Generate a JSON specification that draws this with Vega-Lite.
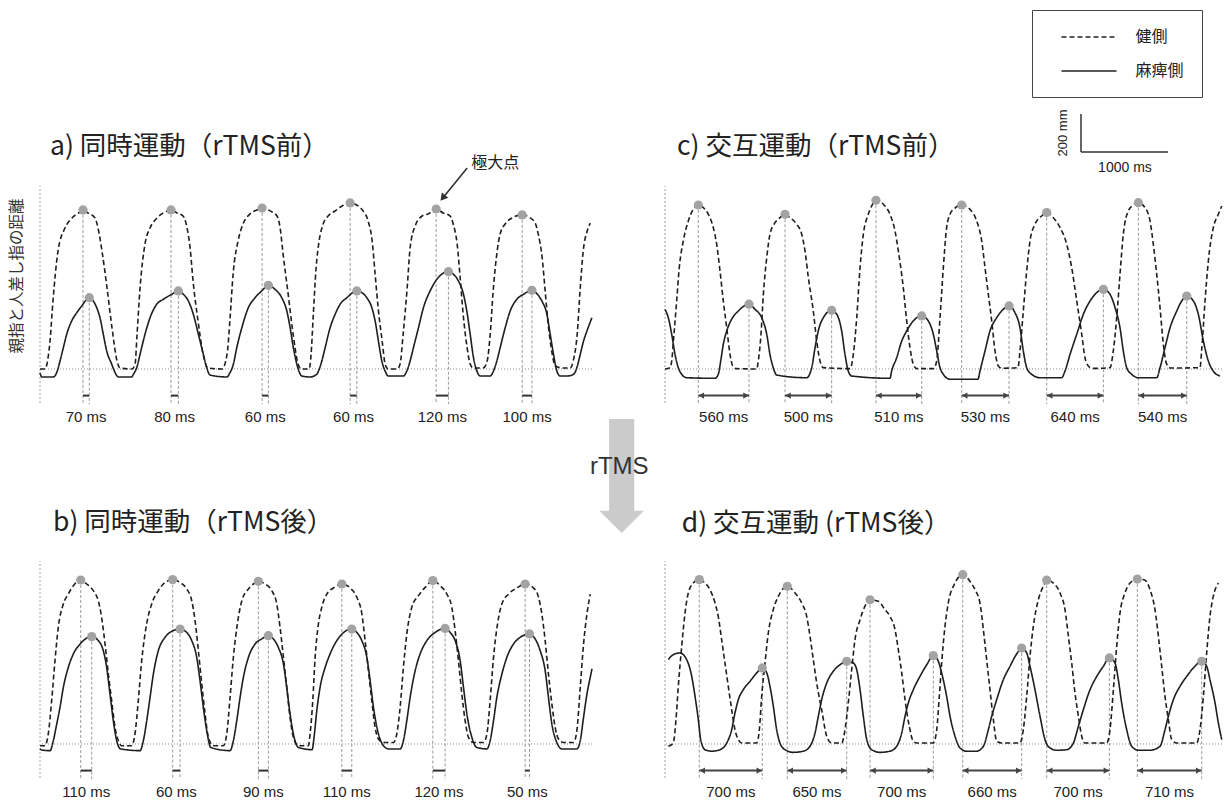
{
"$schema": "https://vega.github.io/schema/vega-lite/v6.json",
"background": "white",
"padding": {"left": 10, "top": 9, "right": 0, "bottom": 0},
"config": {"view": {"stroke": null}, "font": "Liberation Sans"},
"columns": 2,
"bounds": "flush",
"spacing": {"row": 158, "column": 73},
"resolve": {"scale": {"strokeDash": "independent"}, "legend": {"strokeDash": "independent"}},
"datasets": {
"curves": [
{"p":"a","s":"健側","t":0,"v":0},{"p":"a","s":"健側","t":57,"v":0},{"p":"a","s":"健側","t":80,"v":26},{"p":"a","s":"健側","t":115,"v":147},{"p":"a","s":"健側","t":149,"v":358},{"p":"a","s":"健側","t":207,"v":621},{"p":"a","s":"健側","t":287,"v":742},{"p":"a","s":"健側","t":368,"v":795},{"p":"a","s":"健側","t":460,"v":826},{"p":"a","s":"健側","t":494,"v":837},{"p":"a","s":"健側","t":552,"v":821},{"p":"a","s":"健側","t":632,"v":795},{"p":"a","s":"健側","t":666,"v":742},{"p":"a","s":"健側","t":712,"v":621},{"p":"a","s":"健側","t":770,"v":426},{"p":"a","s":"健側","t":827,"v":216},{"p":"a","s":"健側","t":885,"v":42},{"p":"a","s":"健側","t":919,"v":5},{"p":"a","s":"健側","t":1057,"v":0},{"p":"a","s":"健側","t":1092,"v":26},{"p":"a","s":"健側","t":1115,"v":184},{"p":"a","s":"健側","t":1149,"v":426},{"p":"a","s":"健側","t":1206,"v":658},{"p":"a","s":"健側","t":1264,"v":742},{"p":"a","s":"健側","t":1344,"v":795},{"p":"a","s":"健側","t":1436,"v":826},{"p":"a","s":"健側","t":1505,"v":837},{"p":"a","s":"健側","t":1574,"v":821},{"p":"a","s":"健側","t":1643,"v":805},{"p":"a","s":"健側","t":1689,"v":742},{"p":"a","s":"健側","t":1724,"v":637},{"p":"a","s":"健側","t":1758,"v":463},{"p":"a","s":"健側","t":1815,"v":253},{"p":"a","s":"健側","t":1873,"v":79},{"p":"a","s":"健側","t":1930,"v":5},{"p":"a","s":"健側","t":2091,"v":0},{"p":"a","s":"健側","t":2149,"v":79},{"p":"a","s":"健側","t":2183,"v":268},{"p":"a","s":"健側","t":2218,"v":500},{"p":"a","s":"健側","t":2275,"v":674},{"p":"a","s":"健側","t":2332,"v":763},{"p":"a","s":"健側","t":2413,"v":816},{"p":"a","s":"健側","t":2493,"v":837},{"p":"a","s":"健側","t":2551,"v":847},{"p":"a","s":"健側","t":2643,"v":832},{"p":"a","s":"健側","t":2723,"v":805},{"p":"a","s":"健側","t":2758,"v":742},{"p":"a","s":"健側","t":2792,"v":605},{"p":"a","s":"健側","t":2850,"v":395},{"p":"a","s":"健側","t":2907,"v":184},{"p":"a","s":"健側","t":2964,"v":26},{"p":"a","s":"健側","t":2999,"v":0},{"p":"a","s":"健側","t":3091,"v":0},{"p":"a","s":"健側","t":3114,"v":79},{"p":"a","s":"健側","t":3137,"v":268},{"p":"a","s":"健側","t":3171,"v":532},{"p":"a","s":"健側","t":3206,"v":674},{"p":"a","s":"健側","t":3252,"v":763},{"p":"a","s":"健側","t":3309,"v":805},{"p":"a","s":"健側","t":3390,"v":832},{"p":"a","s":"健側","t":3470,"v":858},{"p":"a","s":"健側","t":3562,"v":874},{"p":"a","s":"健側","t":3654,"v":858},{"p":"a","s":"健側","t":3711,"v":832},{"p":"a","s":"健側","t":3769,"v":779},{"p":"a","s":"健側","t":3815,"v":674},{"p":"a","s":"健側","t":3849,"v":500},{"p":"a","s":"健側","t":3884,"v":321},{"p":"a","s":"健側","t":3930,"v":147},{"p":"a","s":"健側","t":3964,"v":26},{"p":"a","s":"健側","t":3999,"v":0},{"p":"a","s":"健側","t":4102,"v":0},{"p":"a","s":"健側","t":4136,"v":26},{"p":"a","s":"健側","t":4171,"v":184},{"p":"a","s":"健側","t":4217,"v":426},{"p":"a","s":"健側","t":4251,"v":637},{"p":"a","s":"健側","t":4309,"v":753},{"p":"a","s":"健側","t":4389,"v":805},{"p":"a","s":"健側","t":4458,"v":816},{"p":"a","s":"健側","t":4550,"v":842},{"p":"a","s":"健側","t":4631,"v":821},{"p":"a","s":"健側","t":4711,"v":805},{"p":"a","s":"健側","t":4746,"v":763},{"p":"a","s":"健側","t":4791,"v":658},{"p":"a","s":"健側","t":4826,"v":479},{"p":"a","s":"健側","t":4860,"v":289},{"p":"a","s":"健側","t":4906,"v":111},{"p":"a","s":"健側","t":4941,"v":26},{"p":"a","s":"健側","t":4975,"v":5},{"p":"a","s":"健側","t":5090,"v":5},{"p":"a","s":"健側","t":5136,"v":42},{"p":"a","s":"健側","t":5171,"v":184},{"p":"a","s":"健側","t":5205,"v":411},{"p":"a","s":"健側","t":5251,"v":621},{"p":"a","s":"健側","t":5285,"v":711},{"p":"a","s":"健側","t":5343,"v":763},{"p":"a","s":"健側","t":5423,"v":795},{"p":"a","s":"健側","t":5538,"v":811},{"p":"a","s":"健側","t":5630,"v":795},{"p":"a","s":"健側","t":5688,"v":768},{"p":"a","s":"健側","t":5722,"v":711},{"p":"a","s":"健側","t":5768,"v":584},{"p":"a","s":"健側","t":5802,"v":411},{"p":"a","s":"健側","t":5837,"v":237},{"p":"a","s":"健側","t":5883,"v":79},{"p":"a","s":"健側","t":5917,"v":16},{"p":"a","s":"健側","t":6009,"v":5},{"p":"a","s":"健側","t":6090,"v":5},{"p":"a","s":"健側","t":6124,"v":42},{"p":"a","s":"健側","t":6170,"v":184},{"p":"a","s":"健側","t":6205,"v":426},{"p":"a","s":"健側","t":6239,"v":621},{"p":"a","s":"健側","t":6285,"v":726},{"p":"a","s":"健側","t":6320,"v":768},
{"p":"a","s":"麻痺側","t":0,"v":-19},{"p":"a","s":"麻痺側","t":20,"v":-42},{"p":"a","s":"麻痺側","t":153,"v":-42},{"p":"a","s":"麻痺側","t":192,"v":-19},{"p":"a","s":"麻痺側","t":230,"v":42},{"p":"a","s":"麻痺側","t":268,"v":112},{"p":"a","s":"麻痺側","t":307,"v":183},{"p":"a","s":"麻痺側","t":364,"v":253},{"p":"a","s":"麻痺側","t":422,"v":296},{"p":"a","s":"麻痺側","t":479,"v":332},{"p":"a","s":"麻痺側","t":566,"v":375},{"p":"a","s":"麻痺側","t":612,"v":358},{"p":"a","s":"麻痺側","t":651,"v":323},{"p":"a","s":"麻痺側","t":689,"v":270},{"p":"a","s":"麻痺側","t":727,"v":183},{"p":"a","s":"麻痺側","t":766,"v":95},{"p":"a","s":"麻痺側","t":824,"v":25},{"p":"a","s":"麻痺側","t":862,"v":-19},{"p":"a","s":"麻痺側","t":900,"v":-42},{"p":"a","s":"麻痺側","t":1054,"v":-42},{"p":"a","s":"麻痺側","t":1072,"v":-28},{"p":"a","s":"麻痺側","t":1111,"v":7},{"p":"a","s":"麻痺側","t":1149,"v":77},{"p":"a","s":"麻痺側","t":1206,"v":183},{"p":"a","s":"麻痺側","t":1264,"v":270},{"p":"a","s":"麻痺側","t":1341,"v":341},{"p":"a","s":"麻痺側","t":1417,"v":367},{"p":"a","s":"麻痺側","t":1513,"v":393},{"p":"a","s":"麻痺側","t":1589,"v":411},{"p":"a","s":"麻痺側","t":1647,"v":393},{"p":"a","s":"麻痺側","t":1704,"v":358},{"p":"a","s":"麻痺側","t":1761,"v":288},{"p":"a","s":"麻痺側","t":1819,"v":183},{"p":"a","s":"麻痺側","t":1876,"v":77},{"p":"a","s":"麻痺側","t":1915,"v":7},{"p":"a","s":"麻痺側","t":1953,"v":-32},{"p":"a","s":"麻痺側","t":2145,"v":-42},{"p":"a","s":"麻痺側","t":2183,"v":-19},{"p":"a","s":"麻痺側","t":2221,"v":25},{"p":"a","s":"麻痺側","t":2260,"v":112},{"p":"a","s":"麻痺側","t":2318,"v":217},{"p":"a","s":"麻痺側","t":2393,"v":323},{"p":"a","s":"麻痺側","t":2470,"v":375},{"p":"a","s":"麻痺側","t":2547,"v":411},{"p":"a","s":"麻痺側","t":2623,"v":440},{"p":"a","s":"麻痺側","t":2700,"v":419},{"p":"a","s":"麻痺側","t":2777,"v":375},{"p":"a","s":"麻痺側","t":2835,"v":305},{"p":"a","s":"麻痺側","t":2873,"v":217},{"p":"a","s":"麻痺側","t":2910,"v":112},{"p":"a","s":"麻痺側","t":2961,"v":7},{"p":"a","s":"麻痺側","t":3007,"v":-37},{"p":"a","s":"麻痺側","t":3100,"v":-42},{"p":"a","s":"麻痺側","t":3179,"v":-28},{"p":"a","s":"麻痺側","t":3198,"v":-11},{"p":"a","s":"麻痺側","t":3237,"v":42},{"p":"a","s":"麻痺側","t":3275,"v":112},{"p":"a","s":"麻痺側","t":3332,"v":217},{"p":"a","s":"麻痺側","t":3390,"v":288},{"p":"a","s":"麻痺側","t":3447,"v":341},{"p":"a","s":"麻痺側","t":3524,"v":375},{"p":"a","s":"麻痺側","t":3639,"v":411},{"p":"a","s":"麻痺側","t":3696,"v":402},{"p":"a","s":"麻痺側","t":3754,"v":375},{"p":"a","s":"麻痺側","t":3811,"v":323},{"p":"a","s":"麻痺側","t":3849,"v":253},{"p":"a","s":"麻痺側","t":3887,"v":147},{"p":"a","s":"麻痺側","t":3926,"v":42},{"p":"a","s":"麻痺側","t":3964,"v":-11},{"p":"a","s":"麻痺側","t":4002,"v":-37},{"p":"a","s":"麻痺側","t":4174,"v":-37},{"p":"a","s":"麻痺側","t":4213,"v":-11},{"p":"a","s":"麻痺側","t":4251,"v":42},{"p":"a","s":"麻痺側","t":4289,"v":112},{"p":"a","s":"麻痺側","t":4347,"v":217},{"p":"a","s":"麻痺側","t":4404,"v":323},{"p":"a","s":"麻痺側","t":4481,"v":411},{"p":"a","s":"麻痺側","t":4558,"v":472},{"p":"a","s":"麻痺側","t":4691,"v":512},{"p":"a","s":"麻痺側","t":4749,"v":498},{"p":"a","s":"麻痺側","t":4806,"v":463},{"p":"a","s":"麻痺側","t":4864,"v":393},{"p":"a","s":"麻痺側","t":4902,"v":305},{"p":"a","s":"麻痺側","t":4941,"v":183},{"p":"a","s":"麻痺側","t":4979,"v":59},{"p":"a","s":"麻痺側","t":5018,"v":-11},{"p":"a","s":"麻痺側","t":5056,"v":-37},{"p":"a","s":"麻痺側","t":5171,"v":-37},{"p":"a","s":"麻痺側","t":5208,"v":-11},{"p":"a","s":"麻痺側","t":5247,"v":42},{"p":"a","s":"麻痺側","t":5285,"v":112},{"p":"a","s":"麻痺側","t":5343,"v":217},{"p":"a","s":"麻痺側","t":5400,"v":305},{"p":"a","s":"麻痺側","t":5477,"v":367},{"p":"a","s":"麻痺側","t":5553,"v":393},{"p":"a","s":"麻痺側","t":5650,"v":414},{"p":"a","s":"麻痺側","t":5707,"v":396},{"p":"a","s":"麻痺側","t":5764,"v":358},{"p":"a","s":"麻痺側","t":5822,"v":288},{"p":"a","s":"麻痺側","t":5860,"v":183},{"p":"a","s":"麻痺側","t":5898,"v":77},{"p":"a","s":"麻痺側","t":5937,"v":-11},{"p":"a","s":"麻痺側","t":5975,"v":-37},{"p":"a","s":"麻痺側","t":6052,"v":-37},{"p":"a","s":"麻痺側","t":6128,"v":-28},{"p":"a","s":"麻痺側","t":6166,"v":7},{"p":"a","s":"麻痺側","t":6205,"v":77},{"p":"a","s":"麻痺側","t":6243,"v":147},{"p":"a","s":"麻痺側","t":6282,"v":200},{"p":"a","s":"麻痺側","t":6339,"v":270},
{"p":"b","s":"健側","t":0,"v":-9},{"p":"b","s":"健側","t":57,"v":-9},{"p":"b","s":"健側","t":95,"v":53},{"p":"b","s":"健側","t":134,"v":228},{"p":"b","s":"健側","t":172,"v":438},{"p":"b","s":"健側","t":210,"v":614},{"p":"b","s":"健側","t":268,"v":737},{"p":"b","s":"健側","t":325,"v":789},{"p":"b","s":"健側","t":383,"v":833},{"p":"b","s":"健側","t":468,"v":863},{"p":"b","s":"健側","t":537,"v":842},{"p":"b","s":"健側","t":612,"v":807},{"p":"b","s":"健側","t":669,"v":754},{"p":"b","s":"健側","t":708,"v":666},{"p":"b","s":"健側","t":747,"v":526},{"p":"b","s":"健側","t":785,"v":368},{"p":"b","s":"健側","t":823,"v":228},{"p":"b","s":"健側","t":862,"v":87},{"p":"b","s":"健側","t":900,"v":17},{"p":"b","s":"健側","t":938,"v":-9},{"p":"b","s":"健側","t":1053,"v":-9},{"p":"b","s":"健側","t":1091,"v":53},{"p":"b","s":"健側","t":1129,"v":228},{"p":"b","s":"健側","t":1168,"v":438},{"p":"b","s":"健側","t":1225,"v":632},{"p":"b","s":"健側","t":1283,"v":737},{"p":"b","s":"健側","t":1359,"v":807},{"p":"b","s":"健側","t":1436,"v":850},{"p":"b","s":"健側","t":1524,"v":865},{"p":"b","s":"健側","t":1608,"v":850},{"p":"b","s":"健側","t":1685,"v":816},{"p":"b","s":"健側","t":1743,"v":754},{"p":"b","s":"健側","t":1781,"v":649},{"p":"b","s":"健側","t":1819,"v":491},{"p":"b","s":"健側","t":1858,"v":316},{"p":"b","s":"健側","t":1896,"v":158},{"p":"b","s":"健側","t":1934,"v":35},{"p":"b","s":"健側","t":1991,"v":-9},{"p":"b","s":"健側","t":2106,"v":-9},{"p":"b","s":"健側","t":2145,"v":53},{"p":"b","s":"健側","t":2183,"v":245},{"p":"b","s":"健側","t":2221,"v":456},{"p":"b","s":"健側","t":2267,"v":632},{"p":"b","s":"健側","t":2318,"v":754},{"p":"b","s":"健側","t":2394,"v":816},{"p":"b","s":"健側","t":2451,"v":842},{"p":"b","s":"健側","t":2508,"v":856},{"p":"b","s":"健側","t":2585,"v":842},{"p":"b","s":"健側","t":2662,"v":807},{"p":"b","s":"健側","t":2719,"v":737},{"p":"b","s":"健側","t":2757,"v":614},{"p":"b","s":"健側","t":2796,"v":456},{"p":"b","s":"健側","t":2834,"v":298},{"p":"b","s":"健側","t":2872,"v":140},{"p":"b","s":"健側","t":2910,"v":35},{"p":"b","s":"健側","t":2968,"v":-9},{"p":"b","s":"健側","t":3083,"v":-9},{"p":"b","s":"健側","t":3102,"v":53},{"p":"b","s":"健側","t":3133,"v":228},{"p":"b","s":"健側","t":3160,"v":456},{"p":"b","s":"健側","t":3198,"v":632},{"p":"b","s":"健側","t":3236,"v":719},{"p":"b","s":"健側","t":3294,"v":789},{"p":"b","s":"健側","t":3370,"v":821},{"p":"b","s":"健側","t":3467,"v":842},{"p":"b","s":"健側","t":3562,"v":821},{"p":"b","s":"健側","t":3639,"v":772},{"p":"b","s":"健側","t":3697,"v":684},{"p":"b","s":"健側","t":3734,"v":544},{"p":"b","s":"健側","t":3772,"v":386},{"p":"b","s":"健側","t":3811,"v":228},{"p":"b","s":"健側","t":3849,"v":87},{"p":"b","s":"健側","t":3887,"v":26},{"p":"b","s":"健側","t":3945,"v":8},{"p":"b","s":"健側","t":4060,"v":8},{"p":"b","s":"健側","t":4098,"v":53},{"p":"b","s":"健側","t":4136,"v":193},{"p":"b","s":"健側","t":4174,"v":403},{"p":"b","s":"健側","t":4213,"v":579},{"p":"b","s":"健側","t":4270,"v":719},{"p":"b","s":"健側","t":4347,"v":781},{"p":"b","s":"健側","t":4424,"v":824},{"p":"b","s":"健側","t":4512,"v":860},{"p":"b","s":"健側","t":4596,"v":833},{"p":"b","s":"健側","t":4673,"v":789},{"p":"b","s":"健側","t":4730,"v":719},{"p":"b","s":"健側","t":4768,"v":596},{"p":"b","s":"健側","t":4806,"v":438},{"p":"b","s":"健側","t":4845,"v":263},{"p":"b","s":"健側","t":4883,"v":123},{"p":"b","s":"健側","t":4921,"v":35},{"p":"b","s":"健側","t":4979,"v":8},{"p":"b","s":"健側","t":5094,"v":8},{"p":"b","s":"健側","t":5133,"v":53},{"p":"b","s":"健側","t":5170,"v":228},{"p":"b","s":"健側","t":5209,"v":456},{"p":"b","s":"健側","t":5255,"v":632},{"p":"b","s":"健側","t":5305,"v":737},{"p":"b","s":"健側","t":5381,"v":789},{"p":"b","s":"健側","t":5477,"v":821},{"p":"b","s":"健側","t":5572,"v":842},{"p":"b","s":"健側","t":5668,"v":821},{"p":"b","s":"健側","t":5726,"v":772},{"p":"b","s":"健側","t":5764,"v":684},{"p":"b","s":"健側","t":5802,"v":544},{"p":"b","s":"健側","t":5840,"v":368},{"p":"b","s":"健側","t":5879,"v":211},{"p":"b","s":"健側","t":5917,"v":87},{"p":"b","s":"健側","t":5955,"v":26},{"p":"b","s":"健側","t":6013,"v":8},{"p":"b","s":"健側","t":6128,"v":8},{"p":"b","s":"健側","t":6166,"v":70},{"p":"b","s":"健側","t":6205,"v":298},{"p":"b","s":"健側","t":6243,"v":526},{"p":"b","s":"健側","t":6282,"v":684},{"p":"b","s":"健側","t":6320,"v":789},
{"p":"b","s":"麻痺側","t":0,"v":-26},{"p":"b","s":"麻痺側","t":20,"v":-32},{"p":"b","s":"麻痺側","t":115,"v":-35},{"p":"b","s":"麻痺側","t":153,"v":17},{"p":"b","s":"麻痺側","t":192,"v":105},{"p":"b","s":"麻痺側","t":230,"v":193},{"p":"b","s":"麻痺側","t":268,"v":298},{"p":"b","s":"麻痺側","t":325,"v":403},{"p":"b","s":"麻痺側","t":383,"v":474},{"p":"b","s":"麻痺側","t":460,"v":526},{"p":"b","s":"麻痺側","t":594,"v":565},{"p":"b","s":"麻痺側","t":670,"v":544},{"p":"b","s":"麻痺側","t":727,"v":491},{"p":"b","s":"麻痺側","t":766,"v":403},{"p":"b","s":"麻痺側","t":804,"v":263},{"p":"b","s":"麻痺側","t":842,"v":123},{"p":"b","s":"麻痺側","t":881,"v":17},{"p":"b","s":"麻痺側","t":927,"v":-26},{"p":"b","s":"麻痺側","t":1149,"v":-35},{"p":"b","s":"麻痺側","t":1187,"v":17},{"p":"b","s":"麻痺側","t":1226,"v":123},{"p":"b","s":"麻痺側","t":1264,"v":245},{"p":"b","s":"麻痺側","t":1302,"v":368},{"p":"b","s":"麻痺側","t":1359,"v":491},{"p":"b","s":"麻痺側","t":1436,"v":561},{"p":"b","s":"麻痺側","t":1513,"v":593},{"p":"b","s":"麻痺側","t":1609,"v":605},{"p":"b","s":"麻痺側","t":1685,"v":587},{"p":"b","s":"麻痺側","t":1743,"v":544},{"p":"b","s":"麻痺側","t":1800,"v":456},{"p":"b","s":"麻痺側","t":1838,"v":333},{"p":"b","s":"麻痺側","t":1876,"v":193},{"p":"b","s":"麻痺側","t":1915,"v":70},{"p":"b","s":"麻痺側","t":1961,"v":-18},{"p":"b","s":"麻痺側","t":2183,"v":-35},{"p":"b","s":"麻痺側","t":2221,"v":17},{"p":"b","s":"麻痺側","t":2260,"v":123},{"p":"b","s":"麻痺側","t":2298,"v":245},{"p":"b","s":"麻痺側","t":2336,"v":351},{"p":"b","s":"麻痺側","t":2394,"v":456},{"p":"b","s":"麻痺側","t":2470,"v":526},{"p":"b","s":"麻痺側","t":2547,"v":553},{"p":"b","s":"麻痺側","t":2623,"v":570},{"p":"b","s":"麻痺側","t":2680,"v":553},{"p":"b","s":"麻痺側","t":2738,"v":508},{"p":"b","s":"麻痺側","t":2796,"v":421},{"p":"b","s":"麻痺側","t":2834,"v":298},{"p":"b","s":"麻痺側","t":2872,"v":158},{"p":"b","s":"麻痺側","t":2910,"v":53},{"p":"b","s":"麻痺側","t":2968,"v":-18},{"p":"b","s":"麻痺側","t":3125,"v":-30},{"p":"b","s":"麻痺側","t":3150,"v":45},{"p":"b","s":"麻痺側","t":3179,"v":175},{"p":"b","s":"麻痺側","t":3217,"v":298},{"p":"b","s":"麻痺側","t":3275,"v":403},{"p":"b","s":"麻痺側","t":3332,"v":474},{"p":"b","s":"麻痺側","t":3409,"v":544},{"p":"b","s":"麻痺側","t":3581,"v":605},{"p":"b","s":"麻痺側","t":3639,"v":587},{"p":"b","s":"麻痺側","t":3696,"v":544},{"p":"b","s":"麻痺側","t":3754,"v":456},{"p":"b","s":"麻痺側","t":3792,"v":333},{"p":"b","s":"麻痺側","t":3830,"v":193},{"p":"b","s":"麻痺側","t":3887,"v":53},{"p":"b","s":"麻痺側","t":3945,"v":-9},{"p":"b","s":"麻痺側","t":4002,"v":-26},{"p":"b","s":"麻痺側","t":4136,"v":-26},{"p":"b","s":"麻痺側","t":4174,"v":17},{"p":"b","s":"麻痺側","t":4213,"v":123},{"p":"b","s":"麻痺側","t":4251,"v":245},{"p":"b","s":"麻痺側","t":4309,"v":386},{"p":"b","s":"麻痺側","t":4366,"v":474},{"p":"b","s":"麻痺側","t":4443,"v":544},{"p":"b","s":"麻痺側","t":4538,"v":587},{"p":"b","s":"麻痺側","t":4653,"v":608},{"p":"b","s":"麻痺側","t":4711,"v":587},{"p":"b","s":"麻痺側","t":4768,"v":544},{"p":"b","s":"麻痺側","t":4826,"v":438},{"p":"b","s":"麻痺側","t":4864,"v":298},{"p":"b","s":"麻痺側","t":4903,"v":158},{"p":"b","s":"麻痺側","t":4960,"v":35},{"p":"b","s":"麻痺側","t":5017,"v":-18},{"p":"b","s":"麻痺側","t":5133,"v":-26},{"p":"b","s":"麻痺側","t":5170,"v":17},{"p":"b","s":"麻痺側","t":5209,"v":123},{"p":"b","s":"麻痺側","t":5247,"v":245},{"p":"b","s":"麻痺側","t":5305,"v":368},{"p":"b","s":"麻痺側","t":5362,"v":456},{"p":"b","s":"麻痺側","t":5438,"v":526},{"p":"b","s":"麻痺側","t":5515,"v":561},{"p":"b","s":"麻痺側","t":5622,"v":579},{"p":"b","s":"麻痺側","t":5687,"v":553},{"p":"b","s":"麻痺側","t":5745,"v":491},{"p":"b","s":"麻痺側","t":5802,"v":386},{"p":"b","s":"麻痺側","t":5840,"v":245},{"p":"b","s":"麻痺側","t":5879,"v":105},{"p":"b","s":"麻痺側","t":5936,"v":8},{"p":"b","s":"麻痺側","t":5994,"v":-26},{"p":"b","s":"麻痺側","t":6166,"v":-26},{"p":"b","s":"麻痺側","t":6205,"v":17},{"p":"b","s":"麻痺側","t":6243,"v":140},{"p":"b","s":"麻痺側","t":6282,"v":263},{"p":"b","s":"麻痺側","t":6320,"v":351},{"p":"b","s":"麻痺側","t":6340,"v":396},
{"p":"c","s":"健側","t":0,"v":0},{"p":"c","s":"健側","t":57,"v":7},{"p":"c","s":"健側","t":77,"v":42},{"p":"c","s":"健側","t":103,"v":183},{"p":"c","s":"健側","t":134,"v":358},{"p":"c","s":"健側","t":164,"v":533},{"p":"c","s":"健側","t":210,"v":674},{"p":"c","s":"健側","t":268,"v":779},{"p":"c","s":"健側","t":325,"v":841},{"p":"c","s":"健側","t":383,"v":863},{"p":"c","s":"健側","t":440,"v":849},{"p":"c","s":"健側","t":498,"v":814},{"p":"c","s":"健側","t":555,"v":744},{"p":"c","s":"健側","t":594,"v":656},{"p":"c","s":"健側","t":632,"v":516},{"p":"c","s":"健側","t":670,"v":358},{"p":"c","s":"健側","t":709,"v":217},{"p":"c","s":"健側","t":747,"v":77},{"p":"c","s":"健側","t":778,"v":16},{"p":"c","s":"健側","t":820,"v":2},{"p":"c","s":"健側","t":1054,"v":0},{"p":"c","s":"健側","t":1072,"v":42},{"p":"c","s":"健側","t":1103,"v":183},{"p":"c","s":"健側","t":1130,"v":393},{"p":"c","s":"健側","t":1169,"v":586},{"p":"c","s":"健側","t":1206,"v":709},{"p":"c","s":"健側","t":1264,"v":770},{"p":"c","s":"健側","t":1321,"v":796},{"p":"c","s":"健側","t":1379,"v":814},{"p":"c","s":"健側","t":1436,"v":796},{"p":"c","s":"健側","t":1513,"v":762},{"p":"c","s":"健側","t":1571,"v":709},{"p":"c","s":"健側","t":1609,"v":621},{"p":"c","s":"健側","t":1647,"v":481},{"p":"c","s":"健側","t":1704,"v":305},{"p":"c","s":"健側","t":1743,"v":147},{"p":"c","s":"健側","t":1781,"v":42},{"p":"c","s":"健側","t":1819,"v":7},{"p":"c","s":"健側","t":2126,"v":2},{"p":"c","s":"健側","t":2164,"v":77},{"p":"c","s":"健側","t":2203,"v":270},{"p":"c","s":"健側","t":2241,"v":533},{"p":"c","s":"健側","t":2279,"v":709},{"p":"c","s":"健側","t":2336,"v":814},{"p":"c","s":"健側","t":2375,"v":858},{"p":"c","s":"健側","t":2424,"v":888},{"p":"c","s":"健側","t":2508,"v":867},{"p":"c","s":"健側","t":2585,"v":814},{"p":"c","s":"健側","t":2643,"v":726},{"p":"c","s":"健側","t":2681,"v":621},{"p":"c","s":"健側","t":2738,"v":428},{"p":"c","s":"健側","t":2777,"v":253},{"p":"c","s":"健側","t":2815,"v":112},{"p":"c","s":"健側","t":2853,"v":25},{"p":"c","s":"健側","t":2892,"v":2},{"p":"c","s":"健側","t":3083,"v":2},{"p":"c","s":"健側","t":3122,"v":42},{"p":"c","s":"健側","t":3160,"v":270},{"p":"c","s":"健側","t":3198,"v":533},{"p":"c","s":"健側","t":3236,"v":744},{"p":"c","s":"健側","t":3275,"v":814},{"p":"c","s":"健側","t":3332,"v":847},{"p":"c","s":"健側","t":3409,"v":863},{"p":"c","s":"健側","t":3504,"v":840},{"p":"c","s":"健側","t":3581,"v":779},{"p":"c","s":"健側","t":3639,"v":674},{"p":"c","s":"健側","t":3677,"v":533},{"p":"c","s":"健側","t":3715,"v":393},{"p":"c","s":"健側","t":3754,"v":253},{"p":"c","s":"健側","t":3792,"v":95},{"p":"c","s":"健側","t":3830,"v":16},{"p":"c","s":"健側","t":3870,"v":4},{"p":"c","s":"健側","t":4056,"v":7},{"p":"c","s":"健側","t":4079,"v":95},{"p":"c","s":"健側","t":4117,"v":305},{"p":"c","s":"健側","t":4156,"v":516},{"p":"c","s":"健側","t":4194,"v":674},{"p":"c","s":"健側","t":4251,"v":762},{"p":"c","s":"健側","t":4328,"v":805},{"p":"c","s":"健側","t":4386,"v":823},{"p":"c","s":"健側","t":4462,"v":796},{"p":"c","s":"健側","t":4539,"v":744},{"p":"c","s":"健側","t":4616,"v":656},{"p":"c","s":"健側","t":4673,"v":533},{"p":"c","s":"健側","t":4731,"v":358},{"p":"c","s":"健側","t":4788,"v":183},{"p":"c","s":"健側","t":4826,"v":59},{"p":"c","s":"健側","t":4864,"v":16},{"p":"c","s":"健側","t":4910,"v":3},{"p":"c","s":"健側","t":5113,"v":7},{"p":"c","s":"健側","t":5151,"v":95},{"p":"c","s":"健側","t":5190,"v":270},{"p":"c","s":"健側","t":5228,"v":498},{"p":"c","s":"健側","t":5266,"v":709},{"p":"c","s":"健側","t":5324,"v":832},{"p":"c","s":"健側","t":5381,"v":863},{"p":"c","s":"健側","t":5439,"v":875},{"p":"c","s":"健側","t":5516,"v":849},{"p":"c","s":"健側","t":5573,"v":779},{"p":"c","s":"健側","t":5611,"v":656},{"p":"c","s":"健側","t":5650,"v":498},{"p":"c","s":"健側","t":5688,"v":323},{"p":"c","s":"健側","t":5726,"v":130},{"p":"c","s":"健側","t":5765,"v":25},{"p":"c","s":"健側","t":5810,"v":5},{"p":"c","s":"健側","t":6147,"v":7},{"p":"c","s":"健側","t":6166,"v":95},{"p":"c","s":"健側","t":6205,"v":358},{"p":"c","s":"健側","t":6243,"v":568},{"p":"c","s":"健側","t":6300,"v":744},{"p":"c","s":"健側","t":6358,"v":814},{"p":"c","s":"健側","t":6397,"v":858},
{"p":"c","s":"麻痺側","t":0,"v":314},{"p":"c","s":"麻痺側","t":38,"v":270},{"p":"c","s":"麻痺側","t":77,"v":183},{"p":"c","s":"麻痺側","t":115,"v":77},{"p":"c","s":"麻痺側","t":153,"v":7},{"p":"c","s":"麻痺側","t":192,"v":-28},{"p":"c","s":"麻痺側","t":249,"v":-46},{"p":"c","s":"麻痺側","t":575,"v":-49},{"p":"c","s":"麻痺側","t":612,"v":-28},{"p":"c","s":"麻痺側","t":640,"v":42},{"p":"c","s":"麻痺側","t":670,"v":130},{"p":"c","s":"麻痺側","t":709,"v":200},{"p":"c","s":"麻痺側","t":766,"v":262},{"p":"c","s":"麻痺側","t":842,"v":305},{"p":"c","s":"麻痺側","t":965,"v":341},{"p":"c","s":"麻痺側","t":1034,"v":314},{"p":"c","s":"麻痺側","t":1111,"v":270},{"p":"c","s":"麻痺側","t":1169,"v":183},{"p":"c","s":"麻痺側","t":1206,"v":77},{"p":"c","s":"麻痺側","t":1244,"v":7},{"p":"c","s":"麻痺側","t":1283,"v":-32},{"p":"c","s":"麻痺側","t":1628,"v":-46},{"p":"c","s":"麻痺側","t":1686,"v":7},{"p":"c","s":"麻痺側","t":1724,"v":112},{"p":"c","s":"麻痺側","t":1761,"v":200},{"p":"c","s":"麻痺側","t":1819,"v":270},{"p":"c","s":"麻痺側","t":1915,"v":309},{"p":"c","s":"麻痺側","t":1973,"v":288},{"p":"c","s":"麻痺側","t":2030,"v":200},{"p":"c","s":"麻痺側","t":2068,"v":77},{"p":"c","s":"麻痺側","t":2106,"v":-11},{"p":"c","s":"麻痺側","t":2145,"v":-37},{"p":"c","s":"麻痺側","t":2585,"v":-49},{"p":"c","s":"麻痺側","t":2604,"v":-11},{"p":"c","s":"麻痺側","t":2662,"v":59},{"p":"c","s":"麻痺側","t":2720,"v":147},{"p":"c","s":"麻痺側","t":2777,"v":200},{"p":"c","s":"麻痺側","t":2853,"v":253},{"p":"c","s":"麻痺側","t":2950,"v":279},{"p":"c","s":"麻痺側","t":3025,"v":253},{"p":"c","s":"麻痺側","t":3083,"v":183},{"p":"c","s":"麻痺側","t":3122,"v":95},{"p":"c","s":"麻痺側","t":3160,"v":7},{"p":"c","s":"麻痺側","t":3198,"v":-28},{"p":"c","s":"麻痺側","t":3275,"v":-54},{"p":"c","s":"麻痺側","t":3596,"v":-54},{"p":"c","s":"麻痺側","t":3619,"v":-11},{"p":"c","s":"麻痺側","t":3677,"v":95},{"p":"c","s":"麻痺側","t":3734,"v":200},{"p":"c","s":"麻痺側","t":3811,"v":270},{"p":"c","s":"麻痺側","t":3887,"v":314},{"p":"c","s":"麻痺側","t":3953,"v":332},{"p":"c","s":"麻痺側","t":4022,"v":296},{"p":"c","s":"麻痺側","t":4079,"v":217},{"p":"c","s":"麻痺側","t":4117,"v":95},{"p":"c","s":"麻痺側","t":4156,"v":7},{"p":"c","s":"麻痺側","t":4213,"v":-28},{"p":"c","s":"麻痺側","t":4309,"v":-46},{"p":"c","s":"麻痺側","t":4558,"v":-46},{"p":"c","s":"麻痺側","t":4596,"v":-11},{"p":"c","s":"麻痺側","t":4654,"v":77},{"p":"c","s":"麻痺側","t":4731,"v":183},{"p":"c","s":"麻痺側","t":4807,"v":288},{"p":"c","s":"麻痺側","t":4884,"v":358},{"p":"c","s":"麻痺側","t":4961,"v":402},{"p":"c","s":"麻痺側","t":5037,"v":419},{"p":"c","s":"麻痺側","t":5113,"v":393},{"p":"c","s":"麻痺側","t":5171,"v":323},{"p":"c","s":"麻痺側","t":5228,"v":217},{"p":"c","s":"麻痺側","t":5266,"v":95},{"p":"c","s":"麻痺側","t":5305,"v":7},{"p":"c","s":"麻痺側","t":5362,"v":-28},{"p":"c","s":"麻痺側","t":5438,"v":-46},{"p":"c","s":"麻痺側","t":5650,"v":-46},{"p":"c","s":"麻痺側","t":5688,"v":7},{"p":"c","s":"麻痺側","t":5745,"v":112},{"p":"c","s":"麻痺側","t":5803,"v":217},{"p":"c","s":"麻痺側","t":5880,"v":305},{"p":"c","s":"麻痺側","t":5937,"v":358},{"p":"c","s":"麻痺側","t":5995,"v":384},{"p":"c","s":"麻痺側","t":6071,"v":358},{"p":"c","s":"麻痺側","t":6128,"v":288},{"p":"c","s":"麻痺側","t":6186,"v":147},{"p":"c","s":"麻痺側","t":6243,"v":42},{"p":"c","s":"麻痺側","t":6300,"v":-11},{"p":"c","s":"麻痺側","t":6377,"v":-37},
{"p":"d","s":"健側","t":38,"v":-12},{"p":"d","s":"健側","t":95,"v":5},{"p":"d","s":"健側","t":126,"v":128},{"p":"d","s":"健側","t":153,"v":304},{"p":"d","s":"健側","t":192,"v":514},{"p":"d","s":"健側","t":230,"v":689},{"p":"d","s":"健側","t":268,"v":795},{"p":"d","s":"健側","t":325,"v":847},{"p":"d","s":"健側","t":394,"v":865},{"p":"d","s":"健側","t":460,"v":847},{"p":"d","s":"健側","t":517,"v":812},{"p":"d","s":"健側","t":575,"v":742},{"p":"d","s":"健側","t":612,"v":672},{"p":"d","s":"健側","t":651,"v":549},{"p":"d","s":"健側","t":689,"v":426},{"p":"d","s":"健側","t":727,"v":304},{"p":"d","s":"健側","t":766,"v":181},{"p":"d","s":"健側","t":804,"v":75},{"p":"d","s":"健側","t":842,"v":23},{"p":"d","s":"健側","t":881,"v":5},{"p":"d","s":"健側","t":1054,"v":5},{"p":"d","s":"健側","t":1084,"v":75},{"p":"d","s":"健側","t":1111,"v":251},{"p":"d","s":"健側","t":1149,"v":426},{"p":"d","s":"健側","t":1187,"v":584},{"p":"d","s":"健側","t":1244,"v":707},{"p":"d","s":"健側","t":1302,"v":777},{"p":"d","s":"健側","t":1405,"v":830},{"p":"d","s":"健側","t":1494,"v":795},{"p":"d","s":"健側","t":1571,"v":742},{"p":"d","s":"健側","t":1628,"v":672},{"p":"d","s":"健側","t":1666,"v":567},{"p":"d","s":"健側","t":1704,"v":444},{"p":"d","s":"健側","t":1743,"v":321},{"p":"d","s":"健側","t":1800,"v":181},{"p":"d","s":"健側","t":1858,"v":41},{"p":"d","s":"健側","t":1915,"v":5},{"p":"d","s":"健側","t":2030,"v":5},{"p":"d","s":"健側","t":2068,"v":75},{"p":"d","s":"健側","t":2106,"v":216},{"p":"d","s":"健側","t":2145,"v":391},{"p":"d","s":"健側","t":2183,"v":549},{"p":"d","s":"健側","t":2241,"v":654},{"p":"d","s":"健側","t":2298,"v":725},{"p":"d","s":"健側","t":2356,"v":759},{"p":"d","s":"健側","t":2451,"v":751},{"p":"d","s":"健側","t":2528,"v":707},{"p":"d","s":"健側","t":2585,"v":672},{"p":"d","s":"健側","t":2643,"v":602},{"p":"d","s":"健側","t":2681,"v":496},{"p":"d","s":"健側","t":2720,"v":374},{"p":"d","s":"健側","t":2758,"v":233},{"p":"d","s":"健側","t":2807,"v":93},{"p":"d","s":"健側","t":2853,"v":14},{"p":"d","s":"健側","t":2892,"v":5},{"p":"d","s":"健側","t":3083,"v":5},{"p":"d","s":"健側","t":3122,"v":75},{"p":"d","s":"健側","t":3152,"v":251},{"p":"d","s":"健側","t":3179,"v":426},{"p":"d","s":"健側","t":3217,"v":619},{"p":"d","s":"健側","t":3255,"v":742},{"p":"d","s":"健側","t":3332,"v":847},{"p":"d","s":"健側","t":3421,"v":891},{"p":"d","s":"健側","t":3504,"v":856},{"p":"d","s":"健側","t":3562,"v":812},{"p":"d","s":"健側","t":3619,"v":742},{"p":"d","s":"健側","t":3658,"v":602},{"p":"d","s":"健側","t":3696,"v":444},{"p":"d","s":"健側","t":3734,"v":286},{"p":"d","s":"健側","t":3773,"v":128},{"p":"d","s":"健側","t":3811,"v":14},{"p":"d","s":"健側","t":3869,"v":5},{"p":"d","s":"健側","t":4079,"v":5},{"p":"d","s":"健側","t":4117,"v":75},{"p":"d","s":"健側","t":4156,"v":251},{"p":"d","s":"健側","t":4194,"v":462},{"p":"d","s":"健側","t":4232,"v":619},{"p":"d","s":"健側","t":4290,"v":759},{"p":"d","s":"健側","t":4347,"v":830},{"p":"d","s":"健側","t":4386,"v":862},{"p":"d","s":"健側","t":4462,"v":847},{"p":"d","s":"健側","t":4539,"v":795},{"p":"d","s":"健側","t":4596,"v":707},{"p":"d","s":"健側","t":4635,"v":567},{"p":"d","s":"健側","t":4673,"v":426},{"p":"d","s":"健側","t":4711,"v":268},{"p":"d","s":"健側","t":4750,"v":146},{"p":"d","s":"健側","t":4788,"v":41},{"p":"d","s":"健側","t":4826,"v":5},{"p":"d","s":"健側","t":5075,"v":5},{"p":"d","s":"健側","t":5113,"v":75},{"p":"d","s":"健側","t":5152,"v":286},{"p":"d","s":"健側","t":5190,"v":514},{"p":"d","s":"健側","t":5228,"v":689},{"p":"d","s":"健側","t":5285,"v":795},{"p":"d","s":"健側","t":5343,"v":847},{"p":"d","s":"健側","t":5427,"v":868},{"p":"d","s":"健側","t":5516,"v":862},{"p":"d","s":"健側","t":5573,"v":812},{"p":"d","s":"健側","t":5630,"v":707},{"p":"d","s":"健側","t":5669,"v":567},{"p":"d","s":"健側","t":5707,"v":409},{"p":"d","s":"健側","t":5745,"v":251},{"p":"d","s":"健側","t":5784,"v":128},{"p":"d","s":"健側","t":5822,"v":23},{"p":"d","s":"健側","t":5880,"v":5},{"p":"d","s":"健側","t":6109,"v":5},{"p":"d","s":"健側","t":6147,"v":75},{"p":"d","s":"健側","t":6186,"v":251},{"p":"d","s":"健側","t":6224,"v":479},{"p":"d","s":"健側","t":6262,"v":672},{"p":"d","s":"健側","t":6300,"v":777},{"p":"d","s":"健側","t":6358,"v":847},
{"p":"d","s":"麻痺側","t":38,"v":444},{"p":"d","s":"麻痺側","t":95,"v":470},{"p":"d","s":"麻痺側","t":172,"v":479},{"p":"d","s":"麻痺側","t":249,"v":444},{"p":"d","s":"麻痺側","t":307,"v":356},{"p":"d","s":"麻痺側","t":345,"v":251},{"p":"d","s":"麻痺側","t":383,"v":128},{"p":"d","s":"麻痺側","t":410,"v":23},{"p":"d","s":"麻痺側","t":460,"v":-30},{"p":"d","s":"麻痺側","t":537,"v":-38},{"p":"d","s":"麻痺側","t":632,"v":-30},{"p":"d","s":"麻痺側","t":709,"v":5},{"p":"d","s":"麻痺側","t":766,"v":75},{"p":"d","s":"麻痺側","t":804,"v":163},{"p":"d","s":"麻痺側","t":842,"v":233},{"p":"d","s":"麻痺側","t":900,"v":286},{"p":"d","s":"麻痺側","t":977,"v":330},{"p":"d","s":"麻痺側","t":1054,"v":374},{"p":"d","s":"麻痺側","t":1118,"v":400},{"p":"d","s":"麻痺側","t":1169,"v":374},{"p":"d","s":"麻痺側","t":1206,"v":304},{"p":"d","s":"麻痺側","t":1245,"v":198},{"p":"d","s":"麻痺側","t":1283,"v":75},{"p":"d","s":"麻痺側","t":1321,"v":5},{"p":"d","s":"麻痺側","t":1379,"v":-30},{"p":"d","s":"麻痺側","t":1474,"v":-44},{"p":"d","s":"麻痺側","t":1589,"v":-38},{"p":"d","s":"麻痺側","t":1666,"v":-12},{"p":"d","s":"麻痺側","t":1724,"v":58},{"p":"d","s":"麻痺側","t":1762,"v":146},{"p":"d","s":"麻痺側","t":1800,"v":233},{"p":"d","s":"麻痺側","t":1858,"v":321},{"p":"d","s":"麻痺側","t":1934,"v":383},{"p":"d","s":"麻痺側","t":2011,"v":417},{"p":"d","s":"麻痺側","t":2088,"v":435},{"p":"d","s":"麻痺側","t":2164,"v":426},{"p":"d","s":"麻痺側","t":2203,"v":391},{"p":"d","s":"麻痺側","t":2241,"v":286},{"p":"d","s":"麻痺側","t":2279,"v":146},{"p":"d","s":"麻痺側","t":2318,"v":23},{"p":"d","s":"麻痺側","t":2375,"v":-30},{"p":"d","s":"麻痺側","t":2471,"v":-44},{"p":"d","s":"麻痺側","t":2585,"v":-38},{"p":"d","s":"麻痺側","t":2662,"v":-12},{"p":"d","s":"麻痺側","t":2720,"v":58},{"p":"d","s":"麻痺側","t":2758,"v":146},{"p":"d","s":"麻痺側","t":2796,"v":216},{"p":"d","s":"麻痺側","t":2853,"v":286},{"p":"d","s":"麻痺側","t":2930,"v":356},{"p":"d","s":"麻痺側","t":3007,"v":417},{"p":"d","s":"麻痺側","t":3083,"v":465},{"p":"d","s":"麻痺側","t":3141,"v":435},{"p":"d","s":"麻痺側","t":3179,"v":374},{"p":"d","s":"麻痺側","t":3236,"v":251},{"p":"d","s":"麻痺側","t":3275,"v":146},{"p":"d","s":"麻痺側","t":3332,"v":41},{"p":"d","s":"麻痺側","t":3390,"v":-21},{"p":"d","s":"麻痺側","t":3466,"v":-38},{"p":"d","s":"麻痺側","t":3581,"v":-38},{"p":"d","s":"麻痺側","t":3658,"v":-12},{"p":"d","s":"麻痺側","t":3715,"v":75},{"p":"d","s":"麻痺側","t":3754,"v":146},{"p":"d","s":"麻痺側","t":3811,"v":233},{"p":"d","s":"麻痺側","t":3887,"v":338},{"p":"d","s":"麻痺側","t":3964,"v":409},{"p":"d","s":"麻痺側","t":4048,"v":479},{"p":"d","s":"麻痺側","t":4098,"v":505},{"p":"d","s":"麻痺側","t":4156,"v":479},{"p":"d","s":"麻痺側","t":4194,"v":409},{"p":"d","s":"麻痺側","t":4251,"v":286},{"p":"d","s":"麻痺側","t":4309,"v":146},{"p":"d","s":"麻痺側","t":4366,"v":23},{"p":"d","s":"麻痺側","t":4424,"v":-21},{"p":"d","s":"麻痺側","t":4501,"v":-33},{"p":"d","s":"麻痺側","t":4616,"v":-30},{"p":"d","s":"麻痺側","t":4692,"v":5},{"p":"d","s":"麻痺側","t":4750,"v":93},{"p":"d","s":"麻痺側","t":4807,"v":181},{"p":"d","s":"麻痺側","t":4884,"v":286},{"p":"d","s":"麻痺側","t":4961,"v":356},{"p":"d","s":"麻痺側","t":5037,"v":409},{"p":"d","s":"麻痺側","t":5106,"v":453},{"p":"d","s":"麻痺側","t":5171,"v":426},{"p":"d","s":"麻痺側","t":5209,"v":338},{"p":"d","s":"麻痺側","t":5247,"v":216},{"p":"d","s":"麻痺側","t":5305,"v":75},{"p":"d","s":"麻痺側","t":5362,"v":-12},{"p":"d","s":"麻痺側","t":5439,"v":-33},{"p":"d","s":"麻痺側","t":5573,"v":-33},{"p":"d","s":"麻痺側","t":5688,"v":-12},{"p":"d","s":"麻痺側","t":5745,"v":75},{"p":"d","s":"麻痺側","t":5784,"v":146},{"p":"d","s":"麻痺側","t":5841,"v":233},{"p":"d","s":"麻痺側","t":5918,"v":304},{"p":"d","s":"麻痺側","t":5995,"v":356},{"p":"d","s":"麻痺側","t":6071,"v":400},{"p":"d","s":"麻痺側","t":6167,"v":435},{"p":"d","s":"麻痺側","t":6224,"v":409},{"p":"d","s":"麻痺側","t":6262,"v":338},{"p":"d","s":"麻痺側","t":6320,"v":216},{"p":"d","s":"麻痺側","t":6358,"v":111},{"p":"d","s":"麻痺側","t":6397,"v":23}
],
"peaks": [
{"p":"a","t1":494,"v1":837,"t2":566,"v2":375,"lag":"70 ms"},{"p":"a","t1":1505,"v1":837,"t2":1589,"v2":411,"lag":"80 ms"},{"p":"a","t1":2551,"v1":847,"t2":2623,"v2":440,"lag":"60 ms"},{"p":"a","t1":3562,"v1":874,"t2":3639,"v2":411,"lag":"60 ms"},{"p":"a","t1":4550,"v1":842,"t2":4691,"v2":512,"lag":"120 ms"},{"p":"a","t1":5538,"v1":811,"t2":5650,"v2":414,"lag":"100 ms"},
{"p":"b","t1":468,"v1":863,"t2":594,"v2":565,"lag":"110 ms"},{"p":"b","t1":1524,"v1":865,"t2":1609,"v2":605,"lag":"60 ms"},{"p":"b","t1":2508,"v1":856,"t2":2623,"v2":570,"lag":"90 ms"},{"p":"b","t1":3467,"v1":842,"t2":3581,"v2":605,"lag":"110 ms"},{"p":"b","t1":4512,"v1":860,"t2":4653,"v2":608,"lag":"120 ms"},{"p":"b","t1":5572,"v1":842,"t2":5622,"v2":579,"lag":"50 ms"},
{"p":"c","t1":383,"v1":863,"t2":965,"v2":341,"lag":"560 ms"},{"p":"c","t1":1379,"v1":814,"t2":1915,"v2":309,"lag":"500 ms"},{"p":"c","t1":2424,"v1":888,"t2":2950,"v2":279,"lag":"510 ms"},{"p":"c","t1":3409,"v1":863,"t2":3953,"v2":332,"lag":"530 ms"},{"p":"c","t1":4386,"v1":823,"t2":5037,"v2":419,"lag":"640 ms"},{"p":"c","t1":5439,"v1":875,"t2":5995,"v2":384,"lag":"540 ms"},
{"p":"d","t1":394,"v1":865,"t2":1118,"v2":400,"lag":"700 ms"},{"p":"d","t1":1405,"v1":830,"t2":2088,"v2":435,"lag":"650 ms"},{"p":"d","t1":2356,"v1":759,"t2":3083,"v2":465,"lag":"700 ms"},{"p":"d","t1":3421,"v1":891,"t2":4098,"v2":505,"lag":"660 ms"},{"p":"d","t1":4386,"v1":862,"t2":5106,"v2":453,"lag":"700 ms"},{"p":"d","t1":5427,"v1":868,"t2":6167,"v2":435,"lag":"710 ms"}
]
},
"concat": [
{"width": 552, "height": 217, "layer": [
{"data": {"values": [{}]}, "mark": {"type": "rule", "color": "#a0a0a0", "strokeDash": [2, 2], "strokeWidth": 1}, "encoding": {"x": {"datum": 0, "type": "quantitative", "scale": {"domain": [0, 6340], "nice": false, "zero": false}, "axis": null}, "y": {"datum": -179, "type": "quantitative", "scale": {"domain": [-179, 963], "nice": false, "zero": false}, "axis": null}, "y2": {"datum": 963}}},
{"data": {"values": [{}]}, "mark": {"type": "rule", "color": "#8c8c8c", "strokeDash": [1, 2], "strokeWidth": 1}, "encoding": {"y": {"datum": 0, "type": "quantitative", "scale": {"domain": [-179, 963], "nice": false, "zero": false}, "axis": null}}},
{"data": {"values": [{}]}, "mark": {"type": "text", "text": "親指と人差し指の距離", "angle": 270, "align": "center", "baseline": "middle", "fontSize": 15.5, "font": "Noto Sans CJK JP", "color": "#333"}, "encoding": {"x": {"datum": -259, "type": "quantitative", "scale": {"domain": [0, 6340], "nice": false, "zero": false}, "axis": null}, "y": {"datum": 489, "type": "quantitative", "scale": {"domain": [-179, 963], "nice": false, "zero": false}, "axis": null}}},
{"data": {"name": "peaks"}, "transform": [{"filter": "datum.p === 'a'"}], "mark": {"type": "rule", "color": "#9a9a9a", "strokeDash": [3, 2], "strokeWidth": 1}, "encoding": {"x": {"field": "t1", "type": "quantitative", "scale": {"domain": [0, 6340], "nice": false, "zero": false}, "axis": null}, "y": {"field": "v1", "type": "quantitative", "scale": {"domain": [-179, 963], "nice": false, "zero": false}, "axis": null}, "y2": {"datum": -185}}},
{"data": {"name": "peaks"}, "transform": [{"filter": "datum.p === 'a'"}], "mark": {"type": "rule", "color": "#9a9a9a", "strokeDash": [3, 2], "strokeWidth": 1}, "encoding": {"x": {"field": "t2", "type": "quantitative", "scale": {"domain": [0, 6340], "nice": false, "zero": false}, "axis": null}, "y": {"field": "v2", "type": "quantitative", "scale": {"domain": [-179, 963], "nice": false, "zero": false}, "axis": null}, "y2": {"datum": -185}}},
{"data": {"name": "curves"}, "transform": [{"filter": "datum.p === 'a'"}], "mark": {"type": "line", "interpolate": "monotone", "color": "#1e1e1e", "strokeWidth": 1.6}, "encoding": {"x": {"field": "t", "type": "quantitative", "scale": {"domain": [0, 6340], "nice": false, "zero": false}, "axis": null}, "y": {"field": "v", "type": "quantitative", "scale": {"domain": [-179, 963], "nice": false, "zero": false}, "axis": null}, "strokeDash": {"field": "s", "type": "nominal", "scale": {"domain": ["健側", "麻痺側"], "range": [[5, 3], [1, 0]]}, "legend": null}}},
{"data": {"name": "peaks"}, "transform": [{"filter": "datum.p === 'a'"}], "mark": {"type": "circle", "color": "#a3a3a3", "opacity": 1, "size": 85}, "encoding": {"x": {"field": "t1", "type": "quantitative", "scale": {"domain": [0, 6340], "nice": false, "zero": false}, "axis": null}, "y": {"field": "v1", "type": "quantitative", "scale": {"domain": [-179, 963], "nice": false, "zero": false}, "axis": null}}},
{"data": {"name": "peaks"}, "transform": [{"filter": "datum.p === 'a'"}], "mark": {"type": "circle", "color": "#a3a3a3", "opacity": 1, "size": 85}, "encoding": {"x": {"field": "t2", "type": "quantitative", "scale": {"domain": [0, 6340], "nice": false, "zero": false}, "axis": null}, "y": {"field": "v2", "type": "quantitative", "scale": {"domain": [-179, 963], "nice": false, "zero": false}, "axis": null}}},
{"data": {"name": "peaks"}, "transform": [{"filter": "datum.p === 'a'"}], "mark": {"type": "rule", "color": "#333", "strokeWidth": 2}, "encoding": {"x": {"field": "t1", "type": "quantitative", "scale": {"domain": [0, 6340], "nice": false, "zero": false}, "axis": null}, "x2": {"field": "t2"}, "y": {"datum": -140, "type": "quantitative", "scale": {"domain": [-179, 963], "nice": false, "zero": false}, "axis": null}}},
{"data": {"name": "peaks"}, "transform": [{"filter": "datum.p === 'a'"}, {"calculate": "(datum.t1 + datum.t2) / 2", "as": "tm"}], "mark": {"type": "text", "fontSize": 15, "color": "#222", "baseline": "middle", "font": "Liberation Sans"}, "encoding": {"x": {"field": "tm", "type": "quantitative", "scale": {"domain": [0, 6340], "nice": false, "zero": false}, "axis": null}, "y": {"datum": -255, "type": "quantitative", "scale": {"domain": [-179, 963], "nice": false, "zero": false}, "axis": null}, "text": {"field": "lag"}}},
{"data": {"values": [{}]}, "mark": {"type": "text", "text": "a) 同時運動（rTMS前）", "align": "left", "baseline": "middle", "fontSize": 26.5, "font": "Noto Sans CJK JP", "color": "#222"}, "encoding": {"x": {"datum": 115, "type": "quantitative", "scale": {"domain": [0, 6340], "nice": false, "zero": false}, "axis": null}, "y": {"datum": 1168, "type": "quantitative", "scale": {"domain": [-179, 963], "nice": false, "zero": false}, "axis": null}}},
{"data": {"values": [{}]}, "mark": {"type": "text", "text": "極大点", "align": "left", "baseline": "middle", "fontSize": 16, "font": "Noto Sans CJK JP", "color": "#222"}, "encoding": {"x": {"datum": 4952, "type": "quantitative", "scale": {"domain": [0, 6340], "nice": false, "zero": false}, "axis": null}, "y": {"datum": 1084, "type": "quantitative", "scale": {"domain": [-179, 963], "nice": false, "zero": false}, "axis": null}}},
{"data": {"values": [{}]}, "mark": {"type": "rule", "color": "#333", "strokeWidth": 1.6}, "encoding": {"x": {"datum": 4906, "type": "quantitative", "scale": {"domain": [0, 6340], "nice": false, "zero": false}, "axis": null}, "x2": {"datum": 4626}, "y": {"datum": 1058, "type": "quantitative", "scale": {"domain": [-179, 963], "nice": false, "zero": false}, "axis": null}, "y2": {"datum": 900}}},
{"data": {"values": [{}]}, "mark": {"type": "point", "shape": "triangle-up", "angle": 219, "filled": true, "color": "#333", "opacity": 1, "size": 70}, "encoding": {"x": {"datum": 4626, "type": "quantitative", "scale": {"domain": [0, 6340], "nice": false, "zero": false}, "axis": null}, "y": {"datum": 900, "type": "quantitative", "scale": {"domain": [-179, 963], "nice": false, "zero": false}, "axis": null}}},
{"data": {"values": [{}]}, "mark": {"type": "point", "shape": "M-0.22,-1L0.22,-1L0.22,0.61L0.39,0.61L0,1L-0.39,0.61L-0.22,0.61Z", "filled": true, "color": "#cbcbcb", "opacity": 1, "size": 12996, "strokeWidth": 0}, "encoding": {"x": {"datum": 6681, "type": "quantitative", "scale": {"domain": [0, 6340], "nice": false, "zero": false}, "axis": null}, "y": {"datum": -563, "type": "quantitative", "scale": {"domain": [-179, 963], "nice": false, "zero": false}, "axis": null}}},
{"data": {"values": [{}]}, "mark": {"type": "text", "text": "rTMS", "align": "center", "baseline": "middle", "fontSize": 24, "font": "Liberation Sans", "color": "#333"}, "encoding": {"x": {"datum": 6653, "type": "quantitative", "scale": {"domain": [0, 6340], "nice": false, "zero": false}, "axis": null}, "y": {"datum": -516, "type": "quantitative", "scale": {"domain": [-179, 963], "nice": false, "zero": false}, "axis": null}}}
]},
{"width": 557, "height": 217, "layer": [
{"data": {"values": [{}]}, "mark": {"type": "rule", "color": "#a0a0a0", "strokeDash": [2, 2], "strokeWidth": 1}, "encoding": {"x": {"datum": 0, "type": "quantitative", "scale": {"domain": [0, 6400], "nice": false, "zero": false}, "axis": null}, "y": {"datum": -179, "type": "quantitative", "scale": {"domain": [-179, 963], "nice": false, "zero": false}, "axis": null}, "y2": {"datum": 963}}},
{"data": {"values": [{}]}, "mark": {"type": "rule", "color": "#8c8c8c", "strokeDash": [1, 2], "strokeWidth": 1}, "encoding": {"y": {"datum": 0, "type": "quantitative", "scale": {"domain": [-179, 963], "nice": false, "zero": false}, "axis": null}}},
{"data": {"name": "peaks"}, "transform": [{"filter": "datum.p === 'c'"}], "mark": {"type": "rule", "color": "#9a9a9a", "strokeDash": [3, 2], "strokeWidth": 1}, "encoding": {"x": {"field": "t1", "type": "quantitative", "scale": {"domain": [0, 6400], "nice": false, "zero": false}, "axis": null}, "y": {"field": "v1", "type": "quantitative", "scale": {"domain": [-179, 963], "nice": false, "zero": false}, "axis": null}, "y2": {"datum": -185}}},
{"data": {"name": "peaks"}, "transform": [{"filter": "datum.p === 'c'"}], "mark": {"type": "rule", "color": "#9a9a9a", "strokeDash": [3, 2], "strokeWidth": 1}, "encoding": {"x": {"field": "t2", "type": "quantitative", "scale": {"domain": [0, 6400], "nice": false, "zero": false}, "axis": null}, "y": {"field": "v2", "type": "quantitative", "scale": {"domain": [-179, 963], "nice": false, "zero": false}, "axis": null}, "y2": {"datum": -185}}},
{"data": {"name": "curves"}, "transform": [{"filter": "datum.p === 'c'"}], "mark": {"type": "line", "interpolate": "monotone", "color": "#1e1e1e", "strokeWidth": 1.6}, "encoding": {"x": {"field": "t", "type": "quantitative", "scale": {"domain": [0, 6400], "nice": false, "zero": false}, "axis": null}, "y": {"field": "v", "type": "quantitative", "scale": {"domain": [-179, 963], "nice": false, "zero": false}, "axis": null}, "strokeDash": {"field": "s", "type": "nominal", "scale": {"domain": ["健側", "麻痺側"], "range": [[5, 3], [1, 0]]}, "legend": {"orient": "none", "legendX": 367, "legendY": -176, "title": null, "symbolType": "M-3.44,0L3.44,0", "symbolSize": 256, "symbolStrokeWidth": 1.5, "symbolStrokeColor": "#222", "symbolOffset": 30, "labelFont": "Noto Sans CJK JP", "labelFontSize": 16, "labelColor": "#222", "labelOffset": 37.5, "padding": 18, "rowPadding": 17, "strokeColor": "#444", "fillColor": "white", "cornerRadius": 0}}}},
{"data": {"name": "peaks"}, "transform": [{"filter": "datum.p === 'c'"}], "mark": {"type": "circle", "color": "#a3a3a3", "opacity": 1, "size": 85}, "encoding": {"x": {"field": "t1", "type": "quantitative", "scale": {"domain": [0, 6400], "nice": false, "zero": false}, "axis": null}, "y": {"field": "v1", "type": "quantitative", "scale": {"domain": [-179, 963], "nice": false, "zero": false}, "axis": null}}},
{"data": {"name": "peaks"}, "transform": [{"filter": "datum.p === 'c'"}], "mark": {"type": "circle", "color": "#a3a3a3", "opacity": 1, "size": 85}, "encoding": {"x": {"field": "t2", "type": "quantitative", "scale": {"domain": [0, 6400], "nice": false, "zero": false}, "axis": null}, "y": {"field": "v2", "type": "quantitative", "scale": {"domain": [-179, 963], "nice": false, "zero": false}, "axis": null}}},
{"data": {"name": "peaks"}, "transform": [{"filter": "datum.p === 'c'"}], "mark": {"type": "rule", "color": "#444", "strokeWidth": 2}, "encoding": {"x": {"field": "t1", "type": "quantitative", "scale": {"domain": [0, 6400], "nice": false, "zero": false}, "axis": null}, "x2": {"field": "t2"}, "y": {"datum": -140, "type": "quantitative", "scale": {"domain": [-179, 963], "nice": false, "zero": false}, "axis": null}}},
{"data": {"name": "peaks"}, "transform": [{"filter": "datum.p === 'c'"}], "mark": {"type": "point", "shape": "triangle-left", "filled": true, "color": "#444", "opacity": 1, "size": 40, "xOffset": 3}, "encoding": {"x": {"field": "t1", "type": "quantitative", "scale": {"domain": [0, 6400], "nice": false, "zero": false}, "axis": null}, "y": {"datum": -140, "type": "quantitative", "scale": {"domain": [-179, 963], "nice": false, "zero": false}, "axis": null}}},
{"data": {"name": "peaks"}, "transform": [{"filter": "datum.p === 'c'"}], "mark": {"type": "point", "shape": "triangle-right", "filled": true, "color": "#444", "opacity": 1, "size": 40, "xOffset": -3}, "encoding": {"x": {"field": "t2", "type": "quantitative", "scale": {"domain": [0, 6400], "nice": false, "zero": false}, "axis": null}, "y": {"datum": -140, "type": "quantitative", "scale": {"domain": [-179, 963], "nice": false, "zero": false}, "axis": null}}},
{"data": {"name": "peaks"}, "transform": [{"filter": "datum.p === 'c'"}, {"calculate": "(datum.t1 + datum.t2) / 2", "as": "tm"}], "mark": {"type": "text", "fontSize": 15, "color": "#222", "baseline": "middle", "font": "Liberation Sans"}, "encoding": {"x": {"field": "tm", "type": "quantitative", "scale": {"domain": [0, 6400], "nice": false, "zero": false}, "axis": null}, "y": {"datum": -255, "type": "quantitative", "scale": {"domain": [-179, 963], "nice": false, "zero": false}, "axis": null}, "text": {"field": "lag"}}},
{"data": {"values": [{}]}, "mark": {"type": "text", "text": "c) 交互運動（rTMS前）", "align": "left", "baseline": "middle", "fontSize": 26.5, "font": "Noto Sans CJK JP", "color": "#222"}, "encoding": {"x": {"datum": 138, "type": "quantitative", "scale": {"domain": [0, 6400], "nice": false, "zero": false}, "axis": null}, "y": {"datum": 1168, "type": "quantitative", "scale": {"domain": [-179, 963], "nice": false, "zero": false}, "axis": null}}},
{"data": {"values": [{}]}, "mark": {"type": "rule", "color": "#333", "strokeWidth": 1.5}, "encoding": {"x": {"datum": 4780, "type": "quantitative", "scale": {"domain": [0, 6400], "nice": false, "zero": false}, "axis": null}, "x2": {"datum": 5780}, "y": {"datum": 1142, "type": "quantitative", "scale": {"domain": [-179, 963], "nice": false, "zero": false}, "axis": null}}},
{"data": {"values": [{}]}, "mark": {"type": "rule", "color": "#333", "strokeWidth": 1.5}, "encoding": {"x": {"datum": 4780, "type": "quantitative", "scale": {"domain": [0, 6400], "nice": false, "zero": false}, "axis": null}, "y": {"datum": 1142, "type": "quantitative", "scale": {"domain": [-179, 963], "nice": false, "zero": false}, "axis": null}, "y2": {"datum": 1342}}},
{"data": {"values": [{}]}, "mark": {"type": "text", "text": "1000 ms", "align": "center", "baseline": "middle", "fontSize": 14, "font": "Liberation Sans", "color": "#222"}, "encoding": {"x": {"datum": 5285, "type": "quantitative", "scale": {"domain": [0, 6400], "nice": false, "zero": false}, "axis": null}, "y": {"datum": 1058, "type": "quantitative", "scale": {"domain": [-179, 963], "nice": false, "zero": false}, "axis": null}}},
{"data": {"values": [{}]}, "mark": {"type": "text", "text": "200 mm", "angle": 270, "align": "center", "baseline": "middle", "fontSize": 13, "font": "Liberation Sans", "color": "#222"}, "encoding": {"x": {"datum": 4573, "type": "quantitative", "scale": {"domain": [0, 6400], "nice": false, "zero": false}, "axis": null}, "y": {"datum": 1242, "type": "quantitative", "scale": {"domain": [-179, 963], "nice": false, "zero": false}, "axis": null}}}
]},
{"width": 552, "height": 217, "layer": [
{"data": {"values": [{}]}, "mark": {"type": "rule", "color": "#a0a0a0", "strokeDash": [2, 2], "strokeWidth": 1}, "encoding": {"x": {"datum": 0, "type": "quantitative", "scale": {"domain": [0, 6340], "nice": false, "zero": false}, "axis": null}, "y": {"datum": -179, "type": "quantitative", "scale": {"domain": [-179, 963], "nice": false, "zero": false}, "axis": null}, "y2": {"datum": 963}}},
{"data": {"values": [{}]}, "mark": {"type": "rule", "color": "#8c8c8c", "strokeDash": [1, 2], "strokeWidth": 1}, "encoding": {"y": {"datum": 0, "type": "quantitative", "scale": {"domain": [-179, 963], "nice": false, "zero": false}, "axis": null}}},
{"data": {"name": "peaks"}, "transform": [{"filter": "datum.p === 'b'"}], "mark": {"type": "rule", "color": "#9a9a9a", "strokeDash": [3, 2], "strokeWidth": 1}, "encoding": {"x": {"field": "t1", "type": "quantitative", "scale": {"domain": [0, 6340], "nice": false, "zero": false}, "axis": null}, "y": {"field": "v1", "type": "quantitative", "scale": {"domain": [-179, 963], "nice": false, "zero": false}, "axis": null}, "y2": {"datum": -185}}},
{"data": {"name": "peaks"}, "transform": [{"filter": "datum.p === 'b'"}], "mark": {"type": "rule", "color": "#9a9a9a", "strokeDash": [3, 2], "strokeWidth": 1}, "encoding": {"x": {"field": "t2", "type": "quantitative", "scale": {"domain": [0, 6340], "nice": false, "zero": false}, "axis": null}, "y": {"field": "v2", "type": "quantitative", "scale": {"domain": [-179, 963], "nice": false, "zero": false}, "axis": null}, "y2": {"datum": -185}}},
{"data": {"name": "curves"}, "transform": [{"filter": "datum.p === 'b'"}], "mark": {"type": "line", "interpolate": "monotone", "color": "#1e1e1e", "strokeWidth": 1.6}, "encoding": {"x": {"field": "t", "type": "quantitative", "scale": {"domain": [0, 6340], "nice": false, "zero": false}, "axis": null}, "y": {"field": "v", "type": "quantitative", "scale": {"domain": [-179, 963], "nice": false, "zero": false}, "axis": null}, "strokeDash": {"field": "s", "type": "nominal", "scale": {"domain": ["健側", "麻痺側"], "range": [[5, 3], [1, 0]]}, "legend": null}}},
{"data": {"name": "peaks"}, "transform": [{"filter": "datum.p === 'b'"}], "mark": {"type": "circle", "color": "#a3a3a3", "opacity": 1, "size": 85}, "encoding": {"x": {"field": "t1", "type": "quantitative", "scale": {"domain": [0, 6340], "nice": false, "zero": false}, "axis": null}, "y": {"field": "v1", "type": "quantitative", "scale": {"domain": [-179, 963], "nice": false, "zero": false}, "axis": null}}},
{"data": {"name": "peaks"}, "transform": [{"filter": "datum.p === 'b'"}], "mark": {"type": "circle", "color": "#a3a3a3", "opacity": 1, "size": 85}, "encoding": {"x": {"field": "t2", "type": "quantitative", "scale": {"domain": [0, 6340], "nice": false, "zero": false}, "axis": null}, "y": {"field": "v2", "type": "quantitative", "scale": {"domain": [-179, 963], "nice": false, "zero": false}, "axis": null}}},
{"data": {"name": "peaks"}, "transform": [{"filter": "datum.p === 'b'"}], "mark": {"type": "rule", "color": "#333", "strokeWidth": 2}, "encoding": {"x": {"field": "t1", "type": "quantitative", "scale": {"domain": [0, 6340], "nice": false, "zero": false}, "axis": null}, "x2": {"field": "t2"}, "y": {"datum": -140, "type": "quantitative", "scale": {"domain": [-179, 963], "nice": false, "zero": false}, "axis": null}}},
{"data": {"name": "peaks"}, "transform": [{"filter": "datum.p === 'b'"}, {"calculate": "(datum.t1 + datum.t2) / 2", "as": "tm"}], "mark": {"type": "text", "fontSize": 15, "color": "#222", "baseline": "middle", "font": "Liberation Sans"}, "encoding": {"x": {"field": "tm", "type": "quantitative", "scale": {"domain": [0, 6340], "nice": false, "zero": false}, "axis": null}, "y": {"datum": -255, "type": "quantitative", "scale": {"domain": [-179, 963], "nice": false, "zero": false}, "axis": null}, "text": {"field": "lag"}}},
{"data": {"values": [{}]}, "mark": {"type": "text", "text": "b) 同時運動（rTMS後）", "align": "left", "baseline": "middle", "fontSize": 26.5, "font": "Noto Sans CJK JP", "color": "#222"}, "encoding": {"x": {"datum": 150, "type": "quantitative", "scale": {"domain": [0, 6340], "nice": false, "zero": false}, "axis": null}, "y": {"datum": 1165, "type": "quantitative", "scale": {"domain": [-179, 963], "nice": false, "zero": false}, "axis": null}}}
]},
{"width": 557, "height": 217, "layer": [
{"data": {"values": [{}]}, "mark": {"type": "rule", "color": "#a0a0a0", "strokeDash": [2, 2], "strokeWidth": 1}, "encoding": {"x": {"datum": 0, "type": "quantitative", "scale": {"domain": [0, 6400], "nice": false, "zero": false}, "axis": null}, "y": {"datum": -179, "type": "quantitative", "scale": {"domain": [-179, 963], "nice": false, "zero": false}, "axis": null}, "y2": {"datum": 963}}},
{"data": {"values": [{}]}, "mark": {"type": "rule", "color": "#8c8c8c", "strokeDash": [1, 2], "strokeWidth": 1}, "encoding": {"y": {"datum": 0, "type": "quantitative", "scale": {"domain": [-179, 963], "nice": false, "zero": false}, "axis": null}}},
{"data": {"name": "peaks"}, "transform": [{"filter": "datum.p === 'd'"}], "mark": {"type": "rule", "color": "#9a9a9a", "strokeDash": [3, 2], "strokeWidth": 1}, "encoding": {"x": {"field": "t1", "type": "quantitative", "scale": {"domain": [0, 6400], "nice": false, "zero": false}, "axis": null}, "y": {"field": "v1", "type": "quantitative", "scale": {"domain": [-179, 963], "nice": false, "zero": false}, "axis": null}, "y2": {"datum": -185}}},
{"data": {"name": "peaks"}, "transform": [{"filter": "datum.p === 'd'"}], "mark": {"type": "rule", "color": "#9a9a9a", "strokeDash": [3, 2], "strokeWidth": 1}, "encoding": {"x": {"field": "t2", "type": "quantitative", "scale": {"domain": [0, 6400], "nice": false, "zero": false}, "axis": null}, "y": {"field": "v2", "type": "quantitative", "scale": {"domain": [-179, 963], "nice": false, "zero": false}, "axis": null}, "y2": {"datum": -185}}},
{"data": {"name": "curves"}, "transform": [{"filter": "datum.p === 'd'"}], "mark": {"type": "line", "interpolate": "monotone", "color": "#1e1e1e", "strokeWidth": 1.6}, "encoding": {"x": {"field": "t", "type": "quantitative", "scale": {"domain": [0, 6400], "nice": false, "zero": false}, "axis": null}, "y": {"field": "v", "type": "quantitative", "scale": {"domain": [-179, 963], "nice": false, "zero": false}, "axis": null}, "strokeDash": {"field": "s", "type": "nominal", "scale": {"domain": ["健側", "麻痺側"], "range": [[5, 3], [1, 0]]}, "legend": null}}},
{"data": {"name": "peaks"}, "transform": [{"filter": "datum.p === 'd'"}], "mark": {"type": "circle", "color": "#a3a3a3", "opacity": 1, "size": 85}, "encoding": {"x": {"field": "t1", "type": "quantitative", "scale": {"domain": [0, 6400], "nice": false, "zero": false}, "axis": null}, "y": {"field": "v1", "type": "quantitative", "scale": {"domain": [-179, 963], "nice": false, "zero": false}, "axis": null}}},
{"data": {"name": "peaks"}, "transform": [{"filter": "datum.p === 'd'"}], "mark": {"type": "circle", "color": "#a3a3a3", "opacity": 1, "size": 85}, "encoding": {"x": {"field": "t2", "type": "quantitative", "scale": {"domain": [0, 6400], "nice": false, "zero": false}, "axis": null}, "y": {"field": "v2", "type": "quantitative", "scale": {"domain": [-179, 963], "nice": false, "zero": false}, "axis": null}}},
{"data": {"name": "peaks"}, "transform": [{"filter": "datum.p === 'd'"}], "mark": {"type": "rule", "color": "#444", "strokeWidth": 2}, "encoding": {"x": {"field": "t1", "type": "quantitative", "scale": {"domain": [0, 6400], "nice": false, "zero": false}, "axis": null}, "x2": {"field": "t2"}, "y": {"datum": -140, "type": "quantitative", "scale": {"domain": [-179, 963], "nice": false, "zero": false}, "axis": null}}},
{"data": {"name": "peaks"}, "transform": [{"filter": "datum.p === 'd'"}], "mark": {"type": "point", "shape": "triangle-left", "filled": true, "color": "#444", "opacity": 1, "size": 40, "xOffset": 3}, "encoding": {"x": {"field": "t1", "type": "quantitative", "scale": {"domain": [0, 6400], "nice": false, "zero": false}, "axis": null}, "y": {"datum": -140, "type": "quantitative", "scale": {"domain": [-179, 963], "nice": false, "zero": false}, "axis": null}}},
{"data": {"name": "peaks"}, "transform": [{"filter": "datum.p === 'd'"}], "mark": {"type": "point", "shape": "triangle-right", "filled": true, "color": "#444", "opacity": 1, "size": 40, "xOffset": -3}, "encoding": {"x": {"field": "t2", "type": "quantitative", "scale": {"domain": [0, 6400], "nice": false, "zero": false}, "axis": null}, "y": {"datum": -140, "type": "quantitative", "scale": {"domain": [-179, 963], "nice": false, "zero": false}, "axis": null}}},
{"data": {"name": "peaks"}, "transform": [{"filter": "datum.p === 'd'"}, {"calculate": "(datum.t1 + datum.t2) / 2", "as": "tm"}], "mark": {"type": "text", "fontSize": 15, "color": "#222", "baseline": "middle", "font": "Liberation Sans"}, "encoding": {"x": {"field": "tm", "type": "quantitative", "scale": {"domain": [0, 6400], "nice": false, "zero": false}, "axis": null}, "y": {"datum": -255, "type": "quantitative", "scale": {"domain": [-179, 963], "nice": false, "zero": false}, "axis": null}, "text": {"field": "lag"}}},
{"data": {"values": [{}]}, "mark": {"type": "text", "text": "d) 交互運動 (rTMS後）", "align": "left", "baseline": "middle", "fontSize": 26.5, "font": "Noto Sans CJK JP", "color": "#222"}, "encoding": {"x": {"datum": 192, "type": "quantitative", "scale": {"domain": [0, 6400], "nice": false, "zero": false}, "axis": null}, "y": {"datum": 1156, "type": "quantitative", "scale": {"domain": [-179, 963], "nice": false, "zero": false}, "axis": null}}}
]}
]
}
